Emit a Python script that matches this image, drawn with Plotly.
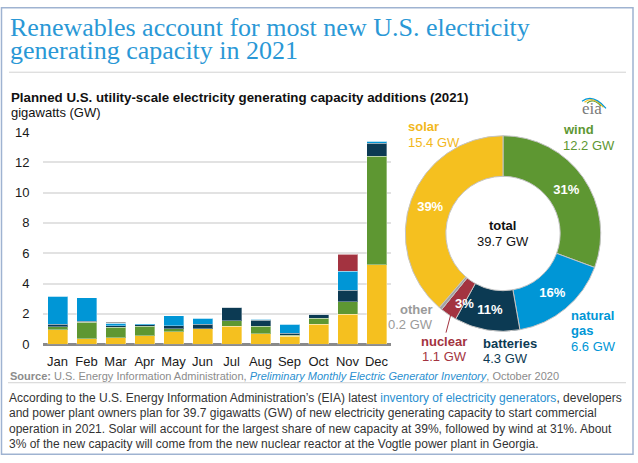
import plotly.graph_objects as go

W, H = 638, 463

# The photographed page shows figure rows slightly squeezed; positions below are
# given in picture pixels and mapped back to figure pixels.
SQ, OFF = 0.966, 6.9


def px(x):
    return x / W


def fy(y):
    return (y - OFF) / SQ


def py(y):
    return 1 - fy(y) / H


# ---------------- data ----------------
months = ["Jan", "Feb", "Mar", "Apr", "May", "Jun", "Jul", "Aug", "Sep", "Oct", "Nov", "Dec"]
solar = [0.95, 0.36, 0.43, 0.56, 0.83, 1.02, 1.18, 0.69, 0.52, 1.33, 1.99, 5.25]
wind = [0.20, 1.08, 0.68, 0.62, 0.20, 0.00, 0.38, 0.50, 0.08, 0.37, 0.81, 7.15]
batteries = [0.15, 0.06, 0.09, 0.11, 0.20, 0.29, 0.88, 0.40, 0.11, 0.29, 0.75, 0.86]
natural_gas = [1.85, 1.55, 0.17, 0.06, 0.66, 0.39, 0.00, 0.04, 0.60, 0.00, 1.26, 0.13]
nuclear = [0, 0, 0, 0, 0, 0, 0, 0, 0, 0, 1.12, 0]
other = [0.03, 0.02, 0.11, 0, 0, 0, 0.02, 0, 0, 0, 0, 0.04]

pie_labels = ["wind", "natural gas", "batteries", "nuclear", "other", "solar"]
pie_values = [12.2, 6.6, 4.3, 1.1, 0.2, 15.4]
pie_pct = ["31%", "16%", "11%", "", "", "39%"]
nuclear_pct = "3%"
total_gw = 39.7

title_lines = ["Renewables account for most new U.S. electricity",
               "generating capacity in 2021"]
subtitle = "Planned U.S. utility-scale electricity generating capacity additions (2021)"
unit_label = "gigawatts (GW)"
para_lines = [
    "According to the U.S. Energy Information Administration\u2019s (EIA) latest "
    "<span style='color:#2a8fd0'>inventory of electricity generators</span>, developers",
    "and power plant owners plan for 39.7 gigawatts (GW) of new electricity generating capacity to start commercial",
    "operation in 2021. Solar will account for the largest share of new capacity at 39%, followed by wind at 31%. About",
    "3% of the new capacity will come from the new nuclear reactor at the Vogtle power plant in Georgia.",
]

# ---------------- styles ----------------
C_SOLAR = "#F5C01F"
C_WIND = "#5E9732"
C_BATT = "#0C3A53"
C_GAS = "#0096D6"
C_NUC = "#A33340"
C_OTHER = "#A3A3A3"
FONT = "Liberation Sans"

fig = go.Figure()
for name, vals, col in [("solar", solar, C_SOLAR), ("wind", wind, C_WIND),
                        ("batteries", batteries, C_BATT), ("natural gas", natural_gas, C_GAS),
                        ("nuclear", nuclear, C_NUC), ("other", other, C_OTHER)]:
    fig.add_trace(go.Bar(x=months, y=vals, name=name, showlegend=False,
                         marker=dict(color=col, line=dict(color="rgba(255,255,255,0.35)", width=1))))

pie_colors = [C_WIND, C_GAS, C_BATT, C_NUC, C_OTHER, C_SOLAR]
cy_pie, r_pie = 233, 101
fig.add_trace(go.Pie(
    labels=pie_labels, values=pie_values, hole=0.585, sort=False,
    direction="clockwise", rotation=0, showlegend=False,
    marker=dict(colors=pie_colors, line=dict(color="#c4c4c4", width=1)),
    text=pie_pct, texttemplate="%{text}", textposition="inside",
    insidetextorientation="horizontal",
    textfont=dict(color="white", size=13, family=FONT, weight="bold"),
    domain=dict(x=[px(503 - r_pie), px(503 + r_pie)],
                y=[1 - (fy(cy_pie) + r_pie) / H, 1 - (fy(cy_pie) - r_pie) / H]),
))

fig.update_layout(
    width=W, height=H, margin=dict(l=0, r=0, t=0, b=0),
    paper_bgcolor="white", plot_bgcolor="white",
    barmode="stack", bargap=0.31,
    uniformtext=dict(minsize=13, mode="show"),
    font=dict(family=FONT, color="#222"),
    xaxis=dict(domain=[px(43), px(391)], showgrid=False,
               ticks="outside", ticklen=5, tickcolor="rgba(0,0,0,0)",
               tickfont=dict(size=13, color="#1a1a1a"), showline=False, fixedrange=True),
    yaxis=dict(domain=[py(343.5), py(131.7)], range=[0, 14], dtick=2,
               gridcolor="#e2e2e2", gridwidth=1.5,
               zeroline=True, zerolinecolor="#8a8a8a", zerolinewidth=2.5,
               ticks="outside", ticklen=10, tickcolor="rgba(0,0,0,0)",
               tickfont=dict(size=13, color="#1a1a1a"), showline=False),
)

ann = []


def text(x, y, s, size=12, color="#222", xanchor="left", family=FONT, weight="normal"):
    ann.append(dict(x=px(x), y=py(y), xref="paper", yref="paper", text=s, showarrow=False,
                    xanchor=xanchor, yanchor="middle",
                    font=dict(size=size, color=color, family=family, weight=weight)))


# title
text(8, 27, title_lines[0], size=26, color="#2a98d6", family="Liberation Serif")
text(8, 50, title_lines[1], size=26, color="#2a98d6", family="Liberation Serif")
# subtitle
text(9, 97, subtitle, size=13.3, color="#111", weight="bold")
text(9, 112.5, unit_label, size=13, color="#111")
# eia logo text
text(592, 108, "eia", size=17, color="#7a7a7a", xanchor="center", family="Liberation Serif")


def gw(v):
    return f"{v:.1f} GW"


# donut labels
text(406, 126, pie_labels[5], size=13, color="#F2B81C", weight="bold")
text(406, 142, gw(pie_values[5]), size=13, color="#F2B81C")
text(561, 129, pie_labels[0], size=13, color=C_WIND, weight="bold")
text(561, 145, gw(pie_values[0]), size=13, color=C_WIND)
text(569, 315, "natural", size=13, color=C_GAS, weight="bold")
text(569, 330, "gas", size=13, color=C_GAS, weight="bold")
text(569, 346, gw(pie_values[1]), size=13, color=C_GAS)
text(481, 343, pie_labels[2], size=13, color=C_BATT, weight="bold")
text(481, 358, gw(pie_values[2]), size=13, color=C_BATT)
text(444, 341, pie_labels[3], size=13, color=C_NUC, weight="bold", xanchor="center")
text(444, 356, gw(pie_values[3]), size=13, color=C_NUC, xanchor="center")
text(435, 309, pie_labels[4], size=13, color="#9a9a9a", weight="bold", xanchor="right")
text(435, 324, gw(pie_values[4]), size=13, color="#9a9a9a", xanchor="right")
text(503, 225, "total", size=13, color="#111", weight="bold", xanchor="center")
text(503, 241, gw(total_gw), size=13, color="#111", xanchor="center")
text(464, 303, nuclear_pct, size=13, color="white", weight="bold", xanchor="center")

# source
text(8, 375, "<b>Source:</b> U.S. Energy Information Administration, "
     "<i><span style='color:#2a8fd0'>Preliminary Monthly Electric Generator Inventory</span></i>, October 2020",
     size=11, color="#8c8c8c")
# paragraph
for i, line in enumerate(para_lines):
    text(7, 397 + i * 15.4, line, size=12, color="#333")

fig.update_layout(annotations=ann)

shapes = [
    dict(type="rect", xref="paper", yref="paper", x0=px(1.5), x1=px(633),
         y0=0.8 / H, y1=1 - 0.8 / H, line=dict(color="#9fb3d1", width=1.5)),
    dict(type="line", xref="paper", yref="paper", x0=px(9), x1=px(626), y0=py(72), y1=py(72),
         line=dict(color="#d2d2d2", width=1)),
    dict(type="line", xref="paper", yref="paper", x0=px(8), x1=px(626), y0=py(382), y1=py(382),
         line=dict(color="#d2d2d2", width=1)),
    # nuclear leader line
    dict(type="line", xref="paper", yref="paper", x0=px(451), x1=px(446), y0=py(313), y1=py(332),
         line=dict(color=C_NUC, width=1)),
]
# eia logo arcs
for i, col in enumerate(["#5E9732", "#F5C01F", "#0096D6"]):
    r = 6 + i * 2.5
    cx, cy = 593, 107
    shapes.append(dict(type="path", xref="paper", yref="paper",
                       path=f"M {px(cx - r)} {py(cy - 4 - i)} Q {px(cx)} {py(cy - 10 - 2 * i)} {px(cx + r + 2)} {py(cy - 1 + i)}",
                       line=dict(color=col, width=1.2)))
fig.update_layout(shapes=shapes)

post = ("document.body.style.margin='0';"
        "document.body.style.overflow='hidden';"
        "document.documentElement.style.overflow='hidden';")
fig.write_html("out.html", config={"displayModeBar": False}, post_script=post)
